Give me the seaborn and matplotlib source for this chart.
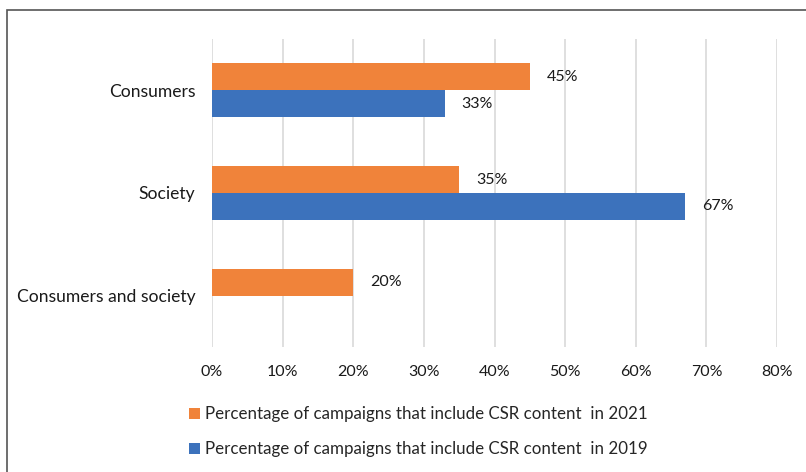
import numpy as np
import pandas as pd
import matplotlib
matplotlib.use("Agg")
import matplotlib.pyplot as plt
from matplotlib.patches import Patch, Rectangle
from matplotlib.ticker import FuncFormatter
import seaborn as sns

categories = ["Consumers", "Society", "Consumers and society"]
series_names = [
    "Percentage of campaigns that include CSR content  in 2021",
    "Percentage of campaigns that include CSR content  in 2019",
]
values_2021 = [45, 35, 20]
values_2019 = [33, 67, np.nan]
x_ticks = [0, 10, 20, 30, 40, 50, 60, 70, 80]
colors = ["#F0833A", "#3C72BC"]

df = pd.DataFrame({
    "category": categories * 2,
    "series": [series_names[0]] * 3 + [series_names[1]] * 3,
    "value": values_2021 + values_2019,
})

sns.set_theme(style="white")
plt.rcParams["font.family"] = ["Lato", "DejaVu Sans"]

fig = plt.figure(figsize=(8.06, 4.72), dpi=100)
ax = fig.add_axes([212 / 806, 1 - 347 / 472, 565 / 806, 308 / 472])

sns.barplot(
    data=df.dropna(), y="category", x="value", hue="series",
    order=categories, hue_order=series_names, palette=colors,
    width=0.525, orient="h", ax=ax, legend=False, saturation=1,
    edgecolor="none",
)

for container in ax.containers:
    ax.bar_label(container, labels=[f"{v:.0f}%" for v in container.datavalues],
                 padding=12, fontsize=11.5, color="#1a1a1a")

ax.set_xlim(0, 80)
ax.set_xticks(x_ticks)
ax.xaxis.set_major_formatter(FuncFormatter(lambda v, p: f"{v:.0f}%"))
ax.set_xlabel("")
ax.set_ylabel("")
ax.grid(axis="x", color="#d9d9d9", linewidth=1.2)
ax.set_axisbelow(True)
for s in ax.spines.values():
    s.set_visible(False)
ax.tick_params(axis="x", length=0, pad=13, labelsize=11.5, labelcolor="#1a1a1a")
ax.tick_params(axis="y", length=0, pad=12, labelsize=12.6, labelcolor="#1a1a1a")

handles = [Patch(facecolor=c, edgecolor="none") for c in colors]
fig.legend(handles, series_names, loc="upper left",
           bbox_to_anchor=(174 / 806, 1 - 391 / 472), frameon=False,
           handlelength=0.65, handleheight=0.65, handletextpad=0.3,
           labelspacing=1.12, fontsize=12.2)

fig.patches.append(Rectangle((7 / 806, -0.05), 1.2, 1 - 10 / 472 + 0.05,
                             transform=fig.transFigure, fill=False,
                             edgecolor="#555555", linewidth=1.2, zorder=10))

fig.savefig("out.png", dpi=100)
